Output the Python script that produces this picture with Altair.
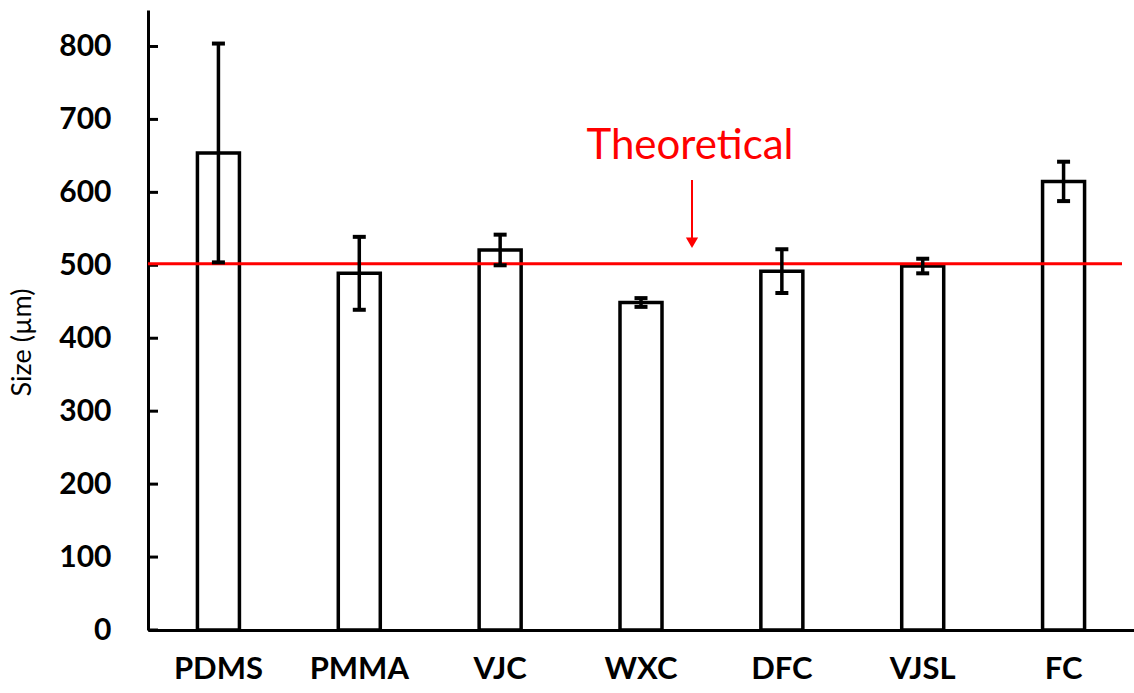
import altair as alt
import pandas as pd

categories = ["PDMS", "PMMA", "VJC", "WXC", "DFC", "VJSL", "FC"]
means = [654, 489, 521, 449, 492, 499, 615]
errors = [150, 50, 21, 6, 30, 10, 27]
tick_values = [0, 100, 200, 300, 400, 500, 600, 700, 800]
theoretical = [502]
arrow_tail = [617]
arrow_head = [531]
label_y = [646]

df = pd.DataFrame({"cat": categories, "mean": means, "err": errors})
df["lo"] = df["mean"] - df["err"]
df["hi"] = df["mean"] + df["err"]

FONT = "Lato"
yscale = alt.Scale(domain=[0, 850], nice=False, zero=True)

x_enc = alt.X(
    "cat:N",
    sort=categories,
    scale=alt.Scale(paddingInner=0, paddingOuter=0),
    axis=alt.Axis(
        title=None, labelAngle=0, labelFontSize=31, labelFontWeight="bold",
        labelFont=FONT, labelColor="black", ticks=False, tickSize=0,
        domainWidth=3, domainColor="black", labelPadding=24, grid=False,
    ),
)

y_axis = alt.Axis(
    title="Size (µm)", titleFont=FONT, titleFontSize=27, titleFontWeight="normal",
    titleColor="black", values=tick_values, labelFontSize=30, labelFontWeight="bold",
    labelFont=FONT, labelColor="black", ticks=False, tickSize=0, domainWidth=3,
    domainColor="black", labelPadding=37, grid=False, titlePadding=22,
    titleY=332,
)

bars = alt.Chart(df).mark_bar(
    width=42, fill="white", stroke="black", strokeWidth=3.5
).encode(
    x=x_enc,
    y=alt.Y("mean:Q", scale=yscale, axis=y_axis),
)

ticks_df = pd.DataFrame({"v": tick_values})
yticks = alt.Chart(ticks_df).mark_rule(color="black", strokeWidth=3).encode(
    y=alt.Y("v:Q", scale=yscale),
    x=alt.value(0),
    x2=alt.value(10),
)

theo_df = pd.DataFrame({"y": theoretical})
redline = alt.Chart(theo_df).mark_rule(color="#ff0000", strokeWidth=3).encode(
    y=alt.Y("y:Q", scale=yscale),
    x=alt.value(0),
    x2=alt.value(974),
)

err_rule = alt.Chart(df).mark_rule(color="black", strokeWidth=3.5).encode(
    x=alt.X("cat:N", sort=categories),
    y=alt.Y("lo:Q", scale=yscale),
    y2="hi:Q",
)
cap_lo = alt.Chart(df).mark_tick(color="black", size=13, thickness=4, orient="horizontal", opacity=1).encode(
    x=alt.X("cat:N", sort=categories),
    y=alt.Y("lo:Q", scale=yscale),
)
cap_hi = alt.Chart(df).mark_tick(color="black", size=13, thickness=4, orient="horizontal", opacity=1).encode(
    x=alt.X("cat:N", sort=categories),
    y=alt.Y("hi:Q", scale=yscale),
)

ann_df = pd.DataFrame({
    "tail": arrow_tail, "head": arrow_head, "ly": label_y, "txt": ["Theoretical"]
})
arrow_line = alt.Chart(ann_df).mark_rule(color="#ff0000", strokeWidth=2).encode(
    x=alt.value(544),
    y=alt.Y("tail:Q", scale=yscale),
    y2="head:Q",
)
arrow_tip = alt.Chart(ann_df).mark_point(
    shape="triangle-down", filled=True, color="#ff0000", size=150, opacity=1
).encode(
    x=alt.value(544),
    y=alt.Y("head:Q", scale=yscale),
)
label = alt.Chart(ann_df).mark_text(
    color="#ff0000", font=FONT, fontSize=42, align="center", baseline="alphabetic"
).encode(
    x=alt.value(542),
    y=alt.Y("ly:Q", scale=yscale),
    text="txt:N",
)

chart = alt.layer(
    bars, yticks, redline, err_rule, cap_lo, cap_hi, arrow_line, arrow_tip, label
).properties(
    width=986, height=620,
    autosize=alt.AutoSizeParams(type="none"),
    padding={"left": 148, "top": 10, "right": 0, "bottom": 63},
    background="white",
).configure_view(stroke=None)

chart.save("out.html", embed_options={"renderer": "svg", "actions": False})
